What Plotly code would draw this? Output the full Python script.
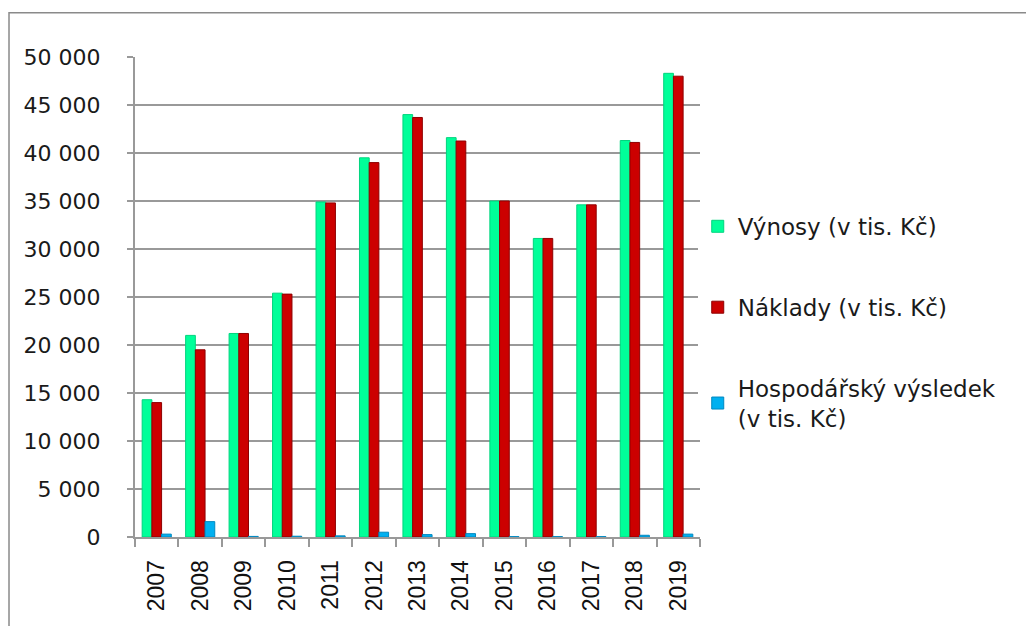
import plotly.graph_objects as go

# Roky a hodnoty (v tis. Kč)
roky = ["2007", "2008", "2009", "2010", "2011", "2012", "2013",
        "2014", "2015", "2016", "2017", "2018", "2019"]
vynosy = [14300, 21000, 21200, 25400, 34900, 39500, 44000,
          41600, 35000, 31100, 34600, 41300, 48300]
naklady = [14000, 19500, 21200, 25300, 34800, 39000, 43700,
           41250, 35000, 31100, 34600, 41100, 48000]
vysledek = [300, 1600, 60, 80, 120, 500, 250,
            350, 40, 40, 40, 180, 300]

tick_vals = [0, 5000, 10000, 15000, 20000, 25000, 30000, 35000, 40000, 45000, 50000]

FONT = "DejaVu Sans"

fig = go.Figure()
fig.add_trace(go.Bar(x=roky, y=vynosy, name="Výnosy (v tis. Kč)",
                     marker=dict(color="#00FF99", line=dict(color="#00D47E", width=1)),
                     legendgroup="a"))
fig.add_trace(go.Bar(x=roky, y=naklady, name="Náklady (v tis. Kč)",
                     marker=dict(color="#CC0000", line=dict(color="#8E0000", width=1)),
                     legendgroup="b"))
fig.add_trace(go.Bar(x=roky, y=vysledek, name="Hospodářský výsledek<br>(v tis. Kč)",
                     marker=dict(color="#00B0F0", line=dict(color="#0088C0", width=1)),
                     legendgroup="c"))

# stránka má výchozí okraj body 8 px, proto je figura o 8 px menší
fig.update_layout(
    width=1026, height=618,
    margin=dict(l=127, r=334, t=49, b=89),
    paper_bgcolor="white", plot_bgcolor="white",
    barmode="group", bargap=0.33, bargroupgap=0,
    separators=". ",
    font=dict(family=FONT, size=22, color="#1a1a1a"),
    legend=dict(x=0.996, y=0.692, xanchor="left", yanchor="top",
                traceorder="grouped", tracegroupgap=48,
                font=dict(family=FONT, size=23, color="#1a1a1a"),
                itemwidth=30),
    xaxis=dict(type="category", showline=True, linecolor="#999999", linewidth=2,
               ticks="outside", tickson="boundaries", ticklen=8, tickcolor="#999999",
               tickwidth=2, tickangle=-90, showgrid=False, ticklabelstandoff=12,
               tickfont=dict(family="Liberation Sans", size=23, color="#111111")),
    yaxis=dict(range=[0, 50000], tickvals=tick_vals, tickformat=",d",
               showline=True, linecolor="#999999", linewidth=2,
               ticks="outside", ticklen=6, tickcolor="#999999", tickwidth=2,
               ticklabelstandoff=22,
               showgrid=True, gridcolor="#999999", gridwidth=2,
               tickfont=dict(family=FONT, size=22, color="#1a1a1a")),
    shapes=[dict(type="rect", xref="paper", yref="paper",
                 x0=-0.223, x1=1.6, y0=-0.25, y1=1.092,
                 line=dict(color="#8a8a8a", width=1.5), fillcolor="rgba(0,0,0,0)",
                 layer="below")],
)

fig.write_html("out.html")
